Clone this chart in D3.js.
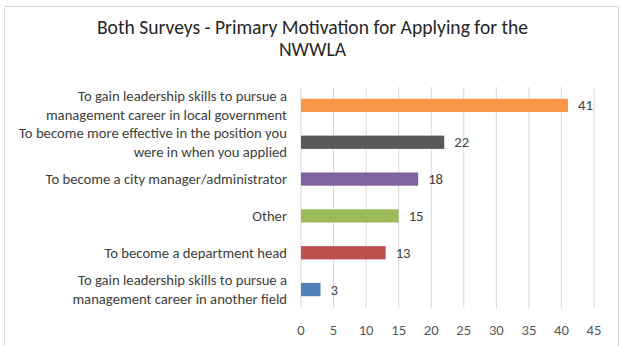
<!DOCTYPE html>
<html>
<head>
<meta charset="utf-8">
<script src="https://cdn.jsdelivr.net/npm/d3@7"></script>
<style>
  body { margin: 0; background: #fff; }
  svg text { font-family: Calibri, Carlito, "Open Sans", sans-serif; }
</style>
</head>
<body>
<div id="chart"></div>
<script>
// categories top to bottom, as drawn
const categories = [
    ["To gain leadership skills to pursue a", "management career in local government"],
    ["To become more effective in the position you", "were in when you applied"],
    ["To become a city manager/administrator"],
    ["Other"],
    ["To become a department head"],
    ["To gain leadership skills to pursue a", "management career in another field"]
];
const values = [41, 22, 18, 15, 13, 3];
const barColors = ["#f79646", "#595959", "#8064a2", "#9bbb59", "#c0504d", "#4f81bd"];
const xTicks = [0, 5, 10, 15, 20, 25, 30, 35, 40, 45];
const titleLines = ["Both Surveys - Primary Motivation for Applying for the", "NWWLA"];

const width = 620, height = 346;
const margin = { top: 87, right: 26, bottom: 38, left: 301 };
const innerH = height - margin.top - margin.bottom;

const svg = d3.select("#chart").append("svg")
    .attr("width", width).attr("height", height);

// outer chart border
svg.append("rect").attr("x", 4.5).attr("y", 6.5)
    .attr("width", 614).attr("height", 380)
    .attr("fill", "#fff").attr("stroke", "#d9d9d9");

// title
svg.append("text")
    .attr("text-anchor", "middle").style("font-size", "19.6px").style("fill", "#262626")
    .selectAll("tspan").data(titleLines).join("tspan")
    .attr("x", 312.5).attr("y", (d, i) => i ? 55.5 : 33.5).text(d => d);

const g = svg.append("g").attr("transform", `translate(${margin.left},${margin.top})`);

const xScale = d3.scaleLinear().domain([0, 45]).range([0, 293]);
const yScale = d3.scaleBand().domain(d3.range(values.length)).range([0, innerH]).paddingInner(0.64).paddingOuter(0.32);

// vertical gridlines
g.append("g").selectAll("line").data(xTicks).join("line")
    .attr("x1", d => xScale(d)).attr("x2", d => xScale(d))
    .attr("y1", 0).attr("y2", innerH)
    .attr("stroke", "#d9d9d9").attr("stroke-width", 1);

// x tick labels
g.append("g").selectAll("text").data(xTicks).join("text")
    .attr("x", d => xScale(d)).attr("y", innerH + 27)
    .attr("text-anchor", "middle").style("font-size", "14.67px").style("fill", "#595959")
    .text(d => d);

// bars
g.selectAll(".bar").data(values).join("rect")
    .attr("x", 0).attr("y", (d, i) => yScale(i))
    .attr("width", d => xScale(d)).attr("height", yScale.bandwidth())
    .attr("fill", (d, i) => barColors[i]);

// value labels
g.selectAll(".val").data(values).join("text")
    .attr("x", d => xScale(d) + 10).attr("y", (d, i) => yScale(i) + yScale.bandwidth() / 2 + 5)
    .style("font-size", "14.67px").style("fill", "#404040")
    .text(d => d);

// category labels
categories.forEach((lines, i) => {
    const cy = yScale(i) + yScale.bandwidth() / 2;
    const t = g.append("text").attr("text-anchor", "end")
        .style("font-size", "14.67px").style("fill", "#404040");
    lines.forEach((ln, j) => {
        t.append("tspan").attr("x", -14)
            .attr("y", cy + 5 + (j - (lines.length - 1) / 2) * 19)
            .text(ln);
    });
});
</script>
</body>
</html>
